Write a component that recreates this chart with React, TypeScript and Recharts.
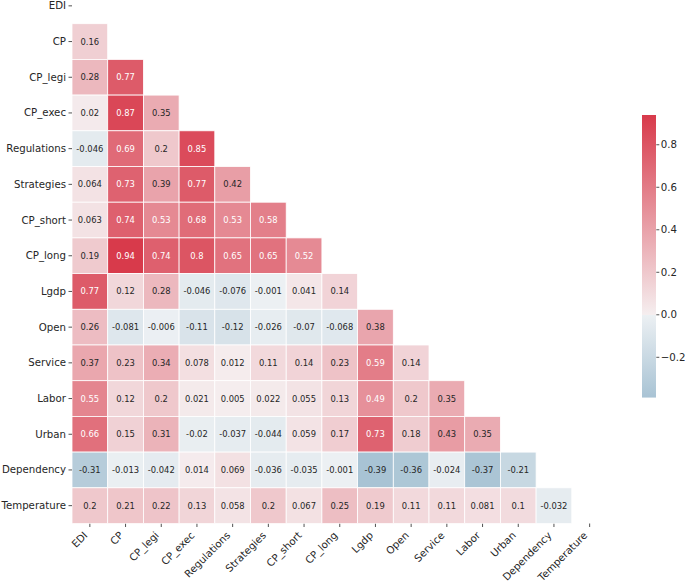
import React from "react";
import { ScatterChart, Scatter, XAxis, YAxis, BarChart, Bar } from "recharts";

// ---------- data ----------
const NAMES = [
  "EDI", "CP", "CP_legi", "CP_exec", "Regulations", "Strategies", "CP_short",
  "CP_long", "Lgdp", "Open", "Service", "Labor", "Urban", "Dependency", "Temperature",
];

const ROW_EDI: number[] = [];
const ROW_CP = [0.16];
const ROW_CP_LEGI = [0.28, 0.77];
const ROW_CP_EXEC = [0.02, 0.87, 0.35];
const ROW_REGULATIONS = [-0.046, 0.69, 0.2, 0.85];
const ROW_STRATEGIES = [0.064, 0.73, 0.39, 0.77, 0.42];
const ROW_CP_SHORT = [0.063, 0.74, 0.53, 0.68, 0.53, 0.58];
const ROW_CP_LONG = [0.19, 0.94, 0.74, 0.8, 0.65, 0.65, 0.52];
const ROW_LGDP = [0.77, 0.12, 0.28, -0.046, -0.076, -0.001, 0.041, 0.14];
const ROW_OPEN = [0.26, -0.081, -0.006, -0.11, -0.12, -0.026, -0.07, -0.068, 0.38];
const ROW_SERVICE = [0.37, 0.23, 0.34, 0.078, 0.012, 0.11, 0.14, 0.23, 0.59, 0.14];
const ROW_LABOR = [0.55, 0.12, 0.2, 0.021, 0.005, 0.022, 0.055, 0.13, 0.49, 0.2, 0.35];
const ROW_URBAN = [0.66, 0.15, 0.31, -0.02, -0.037, -0.044, 0.059, 0.17, 0.73, 0.18, 0.43, 0.35];
const ROW_DEPENDENCY = [-0.31, -0.013, -0.042, 0.014, 0.069, -0.036, -0.035, -0.001, -0.39, -0.36, -0.024, -0.37, -0.21];
const ROW_TEMPERATURE = [0.2, 0.21, 0.22, 0.13, 0.058, 0.2, 0.067, 0.25, 0.19, 0.11, 0.11, 0.081, 0.1, -0.032];

const ROWS = [
  ROW_EDI, ROW_CP, ROW_CP_LEGI, ROW_CP_EXEC, ROW_REGULATIONS, ROW_STRATEGIES, ROW_CP_SHORT,
  ROW_CP_LONG, ROW_LGDP, ROW_OPEN, ROW_SERVICE, ROW_LABOR, ROW_URBAN, ROW_DEPENDENCY, ROW_TEMPERATURE,
];

const CB_TICKS = [-0.2, 0, 0.2, 0.4, 0.6, 0.8];

// ---------- derived ----------
const CELLS = ROWS.flatMap((vals, row) => vals.map((v, col) => ({ col, row, v })));
const ALL_VALUES = CELLS.map((c) => c.v);
const VMIN = Math.min(...ALL_VALUES);
const VMAX = Math.max(...ALL_VALUES);
const VRANGE = Math.max(Math.abs(VMIN), Math.abs(VMAX));
const CB_DATA = [{ name: "cb", range: [VMIN, VMAX] }];

// ---------- colour map (seaborn diverging 220 -> 10, light centre) ----------
const RED = [216, 58, 75];
const BLUE = [72, 132, 168];
const POS_LIGHT = [245, 238, 239];
const NEG_LIGHT = [236, 240, 243];
const MID = [242, 242, 242];

const lerp = (a: number[], b: number[], t: number) => a.map((x, i) => x + (b[i] - x) * t);
const toRgb = (c: number[]) => `rgb(${c.map((x) => Math.round(x)).join(",")})`;
const cmapArr = (v: number) => {
  const t = v / VRANGE;
  return t >= 0 ? lerp(POS_LIGHT, RED, t) : lerp(NEG_LIGHT, BLUE, -t);
};
const cmap = (v: number) => toRgb(cmapArr(v));
const lum = (c: number[]) => {
  const lin = c.map((x) => {
    const s = x / 255;
    return s <= 0.03928 ? s / 12.92 : Math.pow((s + 0.055) / 1.055, 2.4);
  });
  return 0.2126 * lin[0] + 0.7152 * lin[1] + 0.0722 * lin[2];
};

// ---------- layout ----------
const W = 685;
const H = 600;
const Y_AXIS_W = 72;
const RIGHT = 77.5;
const X_AXIS_H = 64.5;
const PLOT_W = W - Y_AXIS_W - RIGHT;
const PLOT_H = H - X_AXIS_H;
const N = NAMES.length;
const CELL_W = PLOT_W / N;
const CELL_H = PLOT_H / N;
const TEXT = "#262626";
const FONT = "DejaVu Sans";

const CellShape = (props: any) => {
  const { cx, cy, payload } = props;
  const c = cmapArr(payload.v);
  const txt = lum(c) > 0.408 ? TEXT : "#ffffff";
  return (
    <g>
      <rect
        x={cx - CELL_W / 2}
        y={cy - CELL_H / 2}
        width={CELL_W}
        height={CELL_H}
        fill={toRgb(c)}
        stroke="#ffffff"
        strokeWidth={0.8}
      />
      <text
        x={cx}
        y={cy}
        textAnchor="middle"
        dominantBaseline="central"
        fontSize={8.4}
        fontFamily={FONT}
        fill={txt}
      >
        {String(payload.v)}
      </text>
    </g>
  );
};

const YTick = (props: any) => {
  const { x, y, payload } = props;
  return (
    <text x={x} y={y} textAnchor="end" dominantBaseline="central" fontSize={10.2} fontFamily={FONT} fill={TEXT}>
      {NAMES[payload.value]}
    </text>
  );
};

const XTick = (props: any) => {
  const { x, y, payload } = props;
  const bx = x - 1.7;
  const by = y + 5.5;
  return (
    <text
      transform={`translate(${bx},${by}) rotate(-45)`}
      x={0}
      y={0}
      textAnchor="end"
      fontSize={10.2}
      fontFamily={FONT}
      fill={TEXT}
    >
      {NAMES[payload.value]}
    </text>
  );
};

const IDX = NAMES.map((_, i) => i);

export default function App() {
  return (
    <div
      style={{
        position: "absolute",
        left: 0,
        top: 0,
        width: 685,
        height: 583,
        overflow: "hidden",
        background: "#ffffff",
        fontFamily: FONT,
      }}
    >
      <svg width={0} height={0} style={{ position: "absolute" }}>
        <defs>
          <linearGradient id="cbGrad" x1="0" y1="0" x2="0" y2="1">
            <stop offset="0" stopColor={cmap(VMAX)} />
            <stop offset={String(VMAX / (VMAX - VMIN) - 0.001)} stopColor={toRgb(POS_LIGHT)} />
            <stop offset={String(VMAX / (VMAX - VMIN))} stopColor={toRgb(MID)} />
            <stop offset={String(VMAX / (VMAX - VMIN) + 0.001)} stopColor={toRgb(NEG_LIGHT)} />
            <stop offset="1" stopColor={cmap(VMIN)} />
          </linearGradient>
        </defs>
      </svg>

      <div style={{ position: "absolute", left: 0, top: -11.7 }}>
        <ScatterChart width={W} height={H} margin={{ top: 0, right: RIGHT, bottom: 0, left: 0 }}>
          <XAxis
            type="number"
            dataKey="col"
            domain={[-0.5, N - 0.5]}
            ticks={IDX}
            interval={0}
            height={X_AXIS_H}
            axisLine={false}
            tickSize={3.5}
            tickMargin={3.5}
            tickLine={{ stroke: TEXT, strokeWidth: 0.8 }}
            tick={<XTick />}
            allowDataOverflow
          />
          <YAxis
            type="number"
            dataKey="row"
            domain={[-0.5, N - 0.5]}
            reversed
            ticks={IDX}
            interval={0}
            width={Y_AXIS_W}
            axisLine={false}
            tickSize={3.5}
            tickMargin={2.5}
            tickLine={{ stroke: TEXT, strokeWidth: 0.8 }}
            tick={<YTick />}
            allowDataOverflow
          />
          <Scatter data={CELLS} shape={<CellShape />} isAnimationActive={false} />
        </ScatterChart>
      </div>

      <div style={{ position: "absolute", left: 641.7, top: 105 }}>
        <BarChart
          width={14.3 + 34}
          height={282.7 + 20}
          data={CB_DATA}
          margin={{ top: 10, right: 0, bottom: 10, left: 0 }}
          barCategoryGap={0}
          barGap={0}
        >
          <XAxis dataKey="name" hide />
          <YAxis
            orientation="right"
            type="number"
            width={34}
            domain={[VMIN, VMAX]}
            ticks={CB_TICKS}
            interval={0}
            allowDataOverflow
            axisLine={false}
            tickSize={3}
            tickMargin={1.5}
            tickLine={{ stroke: TEXT, strokeWidth: 0.8 }}
            tick={{ fontSize: 10.2, fill: TEXT, fontFamily: FONT }}
            tickFormatter={(v: number) => (v < 0 ? "\u2212" + Math.abs(v).toFixed(1) : v.toFixed(1))}
          />
          <Bar dataKey="range" fill="url(#cbGrad)" isAnimationActive={false} />
        </BarChart>
      </div>
    </div>
  );
}
